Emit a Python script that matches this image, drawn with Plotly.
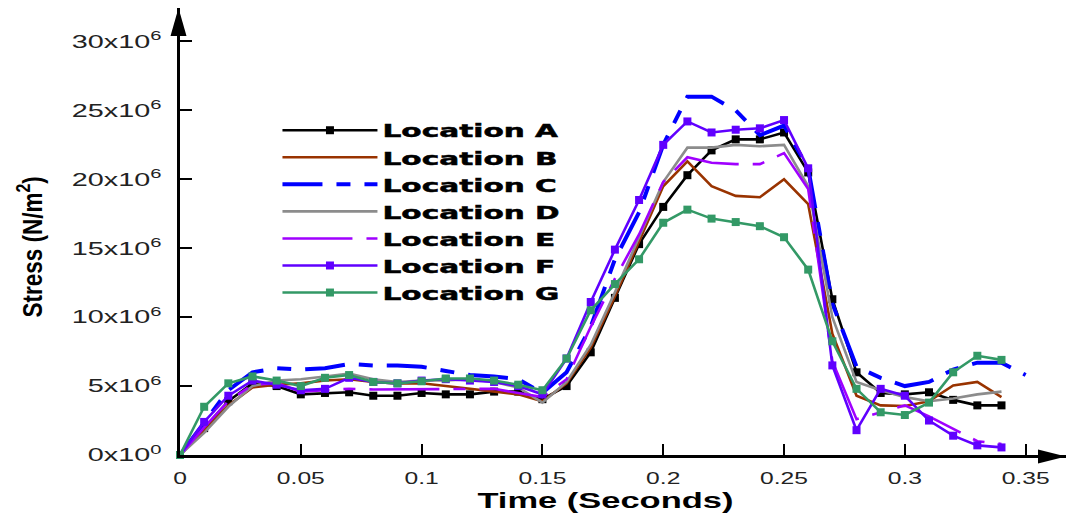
import plotly.graph_objects as go

# Sample times (s)
time_s = [0.00, 0.01, 0.02, 0.03, 0.04, 0.05, 0.06, 0.07, 0.08, 0.09,
          0.10, 0.11, 0.12, 0.13, 0.14, 0.15, 0.16, 0.17, 0.18, 0.19,
          0.20, 0.21, 0.22, 0.23, 0.24, 0.25, 0.26, 0.27, 0.28, 0.29,
          0.30, 0.31, 0.32, 0.33, 0.34]
time_c = time_s + [0.35]

# Stress at each location, in units of 10^6 N/m^2
loc_a = [0, 1.95, 3.9, 5.2, 5.0, 4.4, 4.5, 4.55, 4.3, 4.3, 4.5, 4.4, 4.4, 4.6, 4.6,
         4.05, 5.0, 7.45, 11.4, 15.3, 18.0, 20.3, 22.1, 22.9, 22.9, 23.4, 20.5, 11.3,
         6.0, 4.5, 4.4, 4.55, 4.0, 3.6, 3.6]
loc_b = [0, 1.8, 3.6, 4.9, 5.1, 5.2, 5.4, 5.5, 5.3, 5.2, 5.2, 5.0, 4.8, 4.6, 4.4,
         3.9, 5.2, 7.8, 11.5, 15.5, 19.5, 21.3, 19.5, 18.8, 18.7, 20.0, 18.2, 8.8,
         4.3, 3.6, 3.55, 3.9, 5.05, 5.3, 4.2]
loc_c = [0, 2.3, 4.7, 6.0, 6.3, 6.2, 6.3, 6.6, 6.5, 6.5, 6.4, 6.1, 5.8, 5.7, 5.5,
         4.5, 6.0, 9.3, 14.2, 17.6, 22.5, 26.0, 26.0, 25.0, 23.2, 23.9, 20.8, 11.0,
         6.4, 5.6, 5.0, 5.3, 6.2, 6.7, 6.7, 5.8]
loc_d = [0, 1.6, 3.5, 5.0, 5.4, 5.5, 5.7, 5.9, 5.5, 5.3, 5.4, 5.4, 5.5, 5.3, 4.9,
         3.8, 5.3, 8.0, 11.8, 15.8, 19.8, 22.3, 22.3, 22.5, 22.4, 22.5, 19.5, 10.0,
         5.3, 4.7, 4.2, 3.9, 4.1, 4.4, 4.6]
loc_e = [0, 2.0, 3.9, 5.1, 5.2, 4.6, 4.7, 4.8, 4.75, 4.75, 4.75, 4.8, 4.8, 4.8, 4.5,
         4.2, 5.5, 9.3, 12.8, 16.0, 19.8, 21.6, 21.2, 21.1, 21.1, 21.9, 19.3, 6.8,
         2.6, 3.1, 3.6, 2.8, 1.9, 1.0, 0.8]
loc_f = [0, 2.4, 4.3, 5.4, 5.1, 4.7, 4.8, 5.6, 5.3, 5.2, 5.4, 5.5, 5.4, 5.3, 5.0,
         4.4, 7.0, 11.1, 14.9, 18.5, 22.5, 24.2, 23.4, 23.6, 23.7, 24.3, 20.8, 6.5,
         1.8, 4.8, 4.3, 2.5, 1.4, 0.7, 0.55]
loc_g = [0, 3.5, 5.2, 5.7, 5.4, 5.0, 5.6, 5.8, 5.3, 5.2, 5.35, 5.55, 5.55, 5.4, 5.1,
         4.7, 7.0, 10.5, 12.4, 14.2, 16.85, 17.8, 17.15, 16.9, 16.6, 15.8, 13.45, 8.25,
         4.8, 3.1, 2.9, 3.8, 6.0, 7.2, 6.9]

x_ticks = [0, 0.05, 0.1, 0.15, 0.2, 0.25, 0.3, 0.35]
x_tick_text = ["0", "0.05", "0.1", "0.15", "0.2", "0.25", "0.3", "0.35"]
y_ticks = [0, 5, 10, 15, 20, 25, 30]
y_tick_text = ["0x10<sup>0</sup>"] + [f"{v}x10<sup>6</sup>" for v in y_ticks[1:]]

SCALE = 1e6

series = [
    ("Location A", time_s, loc_a, "#000000", "solid", True),
    ("Location B", time_s, loc_b, "#993300", "solid", False),
    ("Location C", time_c, loc_c, "#0000FF", "40px,14px,14px,14px", False),
    ("Location D", time_s, loc_d, "#8C8C8C", "solid", False),
    ("Location E", time_s, loc_e, "#A000FF", "70px,14px,12px,14px", False),
    ("Location F", time_s, loc_f, "#6000FF", "solid", True),
    ("Location G", time_s, loc_g, "#339966", "solid", True),
]

fig = go.Figure()
for name, xs, ys, color, dash, marked in series:
    fig.add_trace(go.Scatter(
        x=xs, y=[v * SCALE for v in ys], name=name,
        mode="lines+markers" if marked else "lines",
        line=dict(color=color, width=4 if name == "Location C" else 2.6, dash=dash),
        marker=dict(symbol="square", size=8, color=color),
        cliponaxis=False,
    ))

x_end = 0.3667
y_end = 32.43e6

fig.update_layout(
    width=1071, height=517,
    margin=dict(l=180, r=5, t=8, b=62),
    paper_bgcolor="white", plot_bgcolor="white",
    showlegend=True,
    legend=dict(
        x=0.110, y=0.768, xanchor="left", yanchor="top",
        bgcolor="rgba(0,0,0,0)",
        font=dict(family="DejaVu Sans", size=18.5, color="black", weight="bold"),
        itemwidth=95,
    ),
    xaxis=dict(
        range=[0, x_end], showgrid=False, zeroline=False,
        showline=True, linecolor="black", linewidth=3,
        ticks="inside", ticklen=11, tickwidth=2, tickcolor="black",
        tickvals=x_ticks, ticktext=x_tick_text,
        tickfont=dict(family="Liberation Sans", size=17, color="#222"),
        ticklabelstandoff=6,
    ),
    yaxis=dict(
        range=[0, y_end], showgrid=False, zeroline=False,
        showline=True, linecolor="black", linewidth=3,
        ticks="inside", ticklen=12, tickwidth=2, tickcolor="black",
        tickvals=[v * SCALE for v in y_ticks], ticktext=y_tick_text,
        tickfont=dict(family="Liberation Sans", size=18, color="#222"),
        ticklabelstandoff=12,
    ),
    annotations=[
        dict(text="Time (Seconds)", xref="paper", yref="paper",
             x=0.4797, y=-0.1007, xanchor="center", yanchor="middle",
             showarrow=False,
             font=dict(family="Liberation Sans", size=23, color="black", weight="bold")),
        dict(text="Stress (N/m<sup>2</sup>)", xref="paper", yref="paper",
             x=-0.169, y=0.465, xanchor="center", yanchor="middle",
             textangle=-90, showarrow=False,
             font=dict(family="Liberation Sans", size=22.5, color="black",
                       weight="bold")),
    ],
    shapes=[
        # arrow heads on both axes
        dict(type="path", xref="paper", yref="paper",
             xsizemode="pixel", ysizemode="pixel", xanchor=1, yanchor=0,
             path="M-28,-8.5 L0,-1.5 L-28,5.5 Z",
             fillcolor="black", line=dict(width=0)),
        dict(type="path", xref="paper", yref="paper",
             xsizemode="pixel", ysizemode="pixel", xanchor=0, yanchor=1,
             path="M-9.5,-28 L-1.5,0 L6.5,-28 Z",
             fillcolor="black", line=dict(width=0)),
    ],
)

# horizontally widened lettering for legend, ticks and axis titles
widen_js = """
var gd = document.getElementById('{plot_id}');
function stretchX(el, s) {
  var ax = parseFloat(el.getAttribute('x') || '0');
  var t = el.getAttribute('transform') || '';
  el.setAttribute('transform', t + ' translate(' + ax + ',0) scale(' + s + ',1) translate(' + (-ax) + ',0)');
}
function stretchY(el, s) {
  var b = el.getBBox();
  var cy = b.y + b.height / 2;
  var t = el.getAttribute('transform') || '';
  el.setAttribute('transform', t + ' translate(0,' + cy + ') scale(1,' + s + ') translate(0,' + (-cy) + ')');
}
gd.querySelectorAll('.legend .scrollbox').forEach(function (e) { e.removeAttribute('clip-path'); });
gd.querySelectorAll('.legendtext').forEach(function (e) {
  stretchX(e, 1.6);
  e.style.stroke = 'black';
  e.style.strokeWidth = '0.5px';
});
gd.querySelectorAll('.ytick text').forEach(function (e) { stretchX(e, 1.6); });
gd.querySelectorAll('.xtick text').forEach(function (e) { stretchX(e, 1.45); });
gd.querySelectorAll('.annotation-text').forEach(function (e) {
  if (e.textContent.indexOf('Time') === 0) { stretchX(e, 1.5); }
  else if (e.textContent.indexOf('Stress') === 0) { stretchY(e, 1.25); }
});
"""

fig.write_html("out.html", post_script=widen_js)
